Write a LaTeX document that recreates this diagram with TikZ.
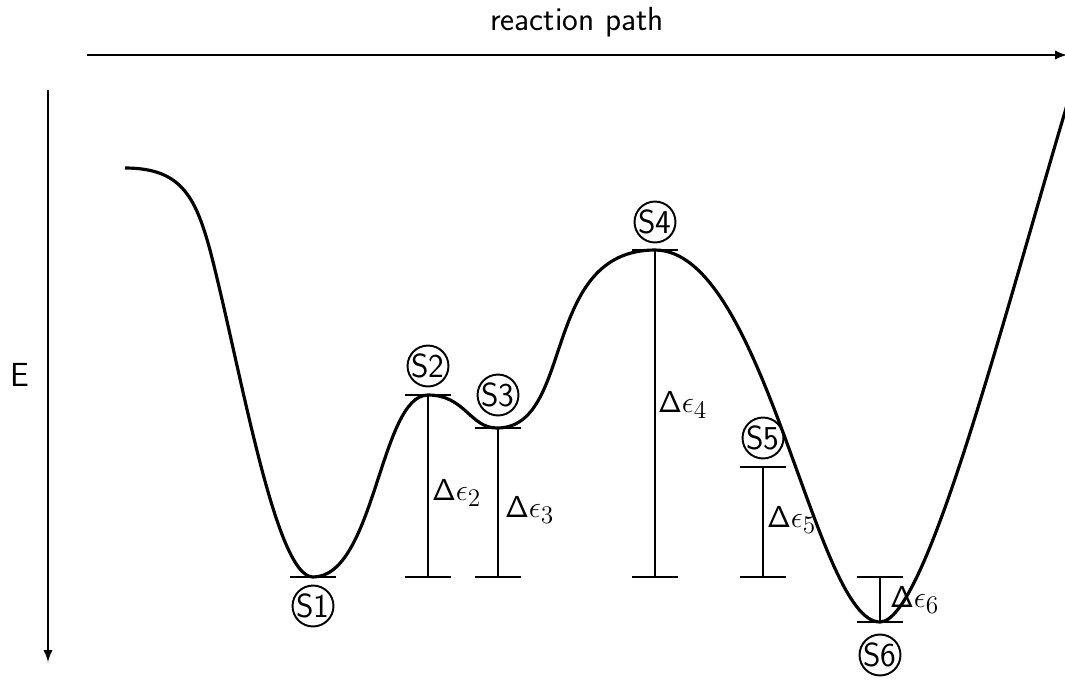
\documentclass[tikz,border=0pt]{standalone}
\usepackage{amsmath}
\usetikzlibrary{arrows,calc}
\renewcommand{\familydefault}{\sfdefault}
\tikzset{
  state/.style={draw,circle,line width=1.1pt,minimum size=0.8cm,inner sep=0pt,font=\fontsize{19}{22}\selectfont},
  level/.style={line width=1.2pt},
  gap/.style={font=\fontsize{19}{22}\selectfont,anchor=west,inner sep=1pt}
}
\newcommand{\de}[1]{$\mathsf{\Delta}\epsilon_{#1}$}
\begin{document}
\begin{tikzpicture}[>=latex,x=0.02cm,y=-0.02cm]
    \useasboundingbox (0,0) rectangle (1065,681);
    % --- axes
    \coordinate (pa) at (87,55);
    \coordinate (pb) at (1067,55);
    \draw[->,line width=1.3pt] (pa) -- (pb);
    \node[font=\fontsize{19}{22}\selectfont] (rp) at (577,22) {reaction path};
    \coordinate (ea) at (48,90);
    \coordinate (eb) at (48,662);
    \draw[->,line width=1.3pt] (ea) -- (eb);
    \node[font=\fontsize{19}{22}\selectfont] (E) at (20,375) {E};
    % --- energy profile
    \draw[line width=1.8pt] (125,168) .. controls (180,168) and (195,195) .. (210,250)
      .. controls (240,365) and (275,577) .. (313,577)
      .. controls (375,577) and (380,395) .. (428,395)
      .. controls (465,395) and (470,428) .. (497,428)
      .. controls (575,428) and (540,250) .. (655,250)
      .. controls (765,250) and (815,622) .. (880,622)
      .. controls (925,622) and (1000,330) .. (1067,105);
    % --- level bars (top and bottom)
    \foreach \n/\x/\yt/\yb in {2/428/395/577,3/498/428/577,4/655/250/577,5/763/467/577,6/880/577/622}{
      \coordinate (t\n) at (\x,\yt);
      \coordinate (b\n) at (\x,\yb);
      \draw[level] ($(t\n)+(-23,0)$) -- ($(t\n)+(23,0)$);
      \draw[level] ($(b\n)+(-23,0)$) -- ($(b\n)+(23,0)$);
      \draw[level] (t\n) -- (b\n);
    }
    \coordinate (t1) at (313,577);
    \draw[level] ($(t1)+(-23,0)$) -- ($(t1)+(23,0)$);
    % --- states
    \node[state] (S1) at (313,606) {S1};
    \node[state] (S2) at (428,366) {S2};
    \node[state] (S3) at (498,395) {S3};
    \node[state] (S4) at (655,222) {S4};
    \node[state] (S5) at (763,438) {S5};
    \node[state] (S6) at (880,655) {S6};
    % --- gaps
    \node[gap] (d2) at (430,493) {\de{2}};
    \node[gap] (d3) at (503,510) {\de{3}};
    \node[gap] (d4) at (656,405) {\de{4}};
    \node[gap] (d5) at (765,520) {\de{5}};
    \node[gap] (d6) at (888,600) {\de{6}};
\end{tikzpicture}
\end{document}
